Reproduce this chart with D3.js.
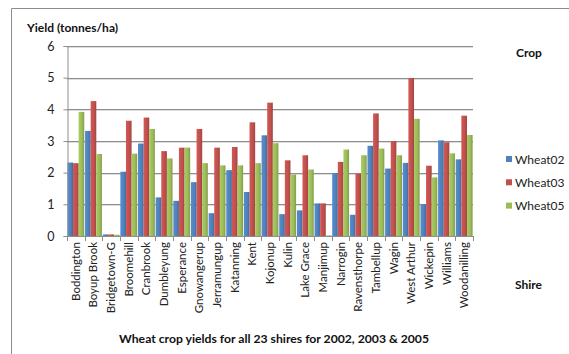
<!DOCTYPE html>
<html>
<head>
<meta charset="utf-8">
<script src="https://cdn.jsdelivr.net/npm/d3@7"></script>
<style>
  html, body { margin: 0; padding: 0; background: #fff; }
  svg { display: block; font-family: Lato, "Open Sans", sans-serif; }
</style>
</head>
<body>
<svg id="chart" width="569" height="354"></svg>
<script>
// Shires and wheat yields (tonnes/ha)
const shires = ["Boddington","Boyup Brook","Bridgetown-G","Broomehill","Cranbrook","Dumbleyung",
  "Esperance","Gnowangerup","Jerramungup","Katanning","Kent","Kojonup","Kulin","Lake Grace",
  "Manjimup","Narrogin","Ravensthorpe","Tambellup","Wagin","West Arthur","Wickepin","Williams","Woodanilling"];
const wheat02 = [2.32,3.32,0.05,2.03,2.92,1.22,1.11,1.70,0.72,2.08,1.39,3.18,0.69,0.81,1.03,1.99,0.67,2.85,2.13,2.31,1.00,3.02,2.42];
const wheat03 = [2.30,4.26,0.05,3.64,3.74,2.68,2.79,3.38,2.79,2.81,3.59,4.21,2.39,2.55,1.03,2.34,1.97,3.87,3.00,4.99,2.22,2.96,3.80];
const wheat05 = [3.92,2.59,0.04,2.60,3.38,2.45,2.79,2.30,2.23,2.23,2.30,2.93,1.94,2.10,0.02,2.73,2.55,2.76,2.55,3.70,1.85,2.61,3.19];
const seriesNames = ["Wheat02","Wheat03","Wheat05"];
const seriesColors = ["#4F81BD","#C0504D","#9BBB59"];
const yTicks = [0,1,2,3,4,5,6];

const series = [wheat02, wheat03, wheat05];
const svg = d3.select("#chart");

// outer frame (top and left edges)
svg.append("line").attr("x1",11.5).attr("x2",569).attr("y1",8.5).attr("y2",8.5).attr("stroke","#8c8c8c");
svg.append("line").attr("x1",11.5).attr("x2",11.5).attr("y1",8.5).attr("y2",354).attr("stroke","#8c8c8c");

const plot = {left: 67, right: 473, top: 46, bottom: 236};
const x = d3.scaleBand().domain(shires).range([plot.left, plot.right]).paddingInner(0).paddingOuter(0);
const xs = d3.scaleBand().domain(seriesNames).range([0, x.bandwidth()]).paddingInner(0).paddingOuter(0.07);
const y = d3.scaleLinear().domain([0,6]).range([plot.bottom, plot.top]);

// horizontal gradients give each bar a shaded edge
const defs = svg.append("defs");
seriesColors.forEach((c, i) => {
  const g = defs.append("linearGradient").attr("id","g"+i).attr("x1","0").attr("x2","1").attr("y1","0").attr("y2","0");
  const base = d3.color(c);
  g.append("stop").attr("offset","0%").attr("stop-color", base.brighter(0.25));
  g.append("stop").attr("offset","60%").attr("stop-color", base);
  g.append("stop").attr("offset","100%").attr("stop-color", base.darker(0.5));
});

// gridlines
svg.append("g").selectAll("line").data(yTicks.filter(t => t > 0)).join("line")
  .attr("x1", plot.left).attr("x2", plot.right)
  .attr("y1", d => Math.round(y(d)) + 0.5).attr("y2", d => Math.round(y(d)) + 0.5)
  .attr("stroke", "#8e8e8e");
svg.append("g").selectAll("line").data(yTicks.filter(t => t > 0)).join("line")
  .attr("x1", plot.left).attr("x2", plot.right)
  .attr("y1", d => Math.round(y(d)) + 1.5).attr("y2", d => Math.round(y(d)) + 1.5)
  .attr("stroke", "#dcdcdc");

// bars
const groups = svg.append("g").selectAll("g").data(shires).join("g")
  .attr("transform", d => `translate(${x(d)},0)`);
groups.selectAll("rect").data((d, i) => series.map((s, k) => ({k, v: s[i]}))).join("rect")
  .attr("x", d => xs(seriesNames[d.k]))
  .attr("width", xs.bandwidth())
  .attr("y", d => y(d.v))
  .attr("height", d => y(0) - y(d.v))
  .attr("fill", d => `url(#g${d.k})`);

// y axis
const yAxis = d3.axisLeft(y).tickValues(yTicks).tickFormat(d3.format("d")).tickSize(4).tickPadding(9);
const ya = svg.append("g").attr("transform", `translate(${plot.left + 0.5},0)`).call(yAxis);
ya.select(".domain").attr("stroke", "#8e8e8e");
ya.selectAll(".tick line").attr("stroke", "#8e8e8e");
ya.selectAll(".tick text").attr("font-size", 12.5).attr("fill", "#222").attr("font-family", "Lato, sans-serif");

// x axis with ticks between categories
svg.append("line").attr("x1", plot.left).attr("x2", plot.right + 1)
  .attr("y1", plot.bottom + 0.5).attr("y2", plot.bottom + 0.5).attr("stroke", "#8e8e8e");
svg.append("g").selectAll("line").data(shires.concat(["__end"])).join("line")
  .attr("x1", (d, i) => Math.round(plot.left + i * x.bandwidth()) + 0.5)
  .attr("x2", (d, i) => Math.round(plot.left + i * x.bandwidth()) + 0.5)
  .attr("y1", plot.bottom).attr("y2", plot.bottom + 5).attr("stroke", "#8e8e8e");
svg.append("g").selectAll("text").data(shires).join("text")
  .attr("transform", d => `translate(${x(d) + x.bandwidth()/2 + 4},${plot.bottom + 6}) rotate(-90)`)
  .attr("text-anchor", "end")
  .attr("font-size", 11.5).attr("fill", "#222")
  .text(d => d);

// titles
svg.append("text").attr("x", 27).attr("y", 32).attr("font-size", 12).attr("font-weight", "bold")
  .attr("fill", "#111").text("Yield (tonnes/ha)");
svg.append("text").attr("x", 274).attr("y", 343).attr("text-anchor", "middle")
  .attr("font-size", 12.2).attr("font-weight", "bold").attr("fill", "#111")
  .text("Wheat crop yields for all 23 shires for 2002, 2003 & 2005");
svg.append("text").attr("x", 516).attr("y", 57).attr("font-size", 12).attr("font-weight", "bold")
  .attr("fill", "#111").text("Crop");
svg.append("text").attr("x", 515).attr("y", 289).attr("font-size", 12).attr("font-weight", "bold")
  .attr("fill", "#111").text("Shire");

// legend
const legend = svg.append("g").selectAll("g").data(seriesNames).join("g")
  .attr("transform", (d, i) => `translate(506,${159 + i * 23.3})`);
legend.append("rect").attr("x", 0).attr("y", -3).attr("width", 6).attr("height", 6)
  .attr("fill", (d, i) => seriesColors[i]);
legend.append("text").attr("x", 9).attr("y", 4.5).attr("font-size", 12).attr("fill", "#222").text(d => d);
</script>
</body>
</html>
